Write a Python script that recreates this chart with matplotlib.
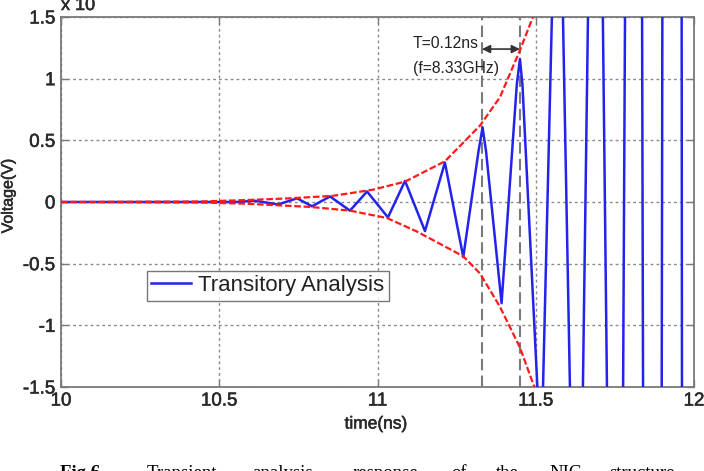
import matplotlib
matplotlib.use("Agg")
import matplotlib.pyplot as plt
import matplotlib.patheffects as pe

# ---------------- data ----------------
# blue transient waveform: extrema / frame crossings (time in ns, voltage)
sig_t = [10.000, 10.553, 10.613, 10.686, 10.746, 10.793, 10.850, 10.913,
         10.967, 11.033, 11.087, 11.150, 11.213, 11.271, 11.319, 11.332,
         11.343, 11.392, 11.440, 11.450, 11.458, 11.510, 11.523, 11.551,
         11.567, 11.586, 11.608, 11.627, 11.649, 11.665, 11.687, 11.712,
         11.725, 11.750, 11.776, 11.782, 11.807, 11.836, 11.839, 11.867,
         11.898, 11.900, 11.930, 11.961, 11.962, 11.994, 12.000]
sig_v = [0.0, 0.0, 0.01, -0.02, 0.03, -0.035, 0.045, -0.07,
         0.085, -0.125, 0.171, -0.236, 0.32, -0.447, 0.41, 0.604,
         0.41, -0.82, 0.95, 1.16, 0.95, -1.75, -1.5, 1.5,
         2.6, 1.5, -1.5, -2.6, -1.5, 1.5, 2.6, 1.5,
         -1.5, -2.6, -1.5, 1.5, 2.6, 1.5, -1.5, -2.6,
         -1.5, 1.5, 2.6, 1.5, -1.5, -2.6, -2.4]

# red exponential envelopes
env_up_t = [10.000, 10.439, 10.588, 10.724, 10.859, 10.986, 11.087, 11.213,
            11.324, 11.387, 11.450, 11.491, 11.529]
env_up_v = [0.0, 0.004, 0.016, 0.03, 0.05, 0.10, 0.165, 0.33,
            0.62, 0.85, 1.23, 1.50, 1.85]
env_lo_t = [10.000, 10.439, 10.588, 10.787, 10.913, 11.030, 11.125, 11.271,
            11.324, 11.387, 11.450, 11.497, 11.529]
env_lo_v = [0.0, -0.004, -0.014, -0.04, -0.07, -0.13, -0.24, -0.44,
            -0.58, -0.85, -1.18, -1.51, -1.8]

period_marks = [11.33, 11.45]
arrow_v = 1.24
label_period = "T=0.12ns"
label_freq = "(f=8.33GHz)"
legend_label = "Transitory Analysis"

xticks = [10, 10.5, 11, 11.5, 12]
xtick_labels = ["10", "10.5", "11", "11.5", "12"]
yticks = [-1.5, -1, -0.5, 0, 0.5, 1, 1.5]
ytick_labels = ["-1.5", "-1", "-0.5", "0", "0.5", "1", "1.5"]

caption_words = ["Transient", "analysis", "response", "of", "the", "NIC", "structure"]
caption_x_px = [147, 252, 353, 451, 496, 549, 609]

# ---------------- figure ----------------
W, H = 704, 471
fig = plt.figure(figsize=(W / 100, H / 100), dpi=100)
plt.rcParams['font.family'] = ['Liberation Sans', 'DejaVu Sans']

thick = [pe.withStroke(linewidth=0.4, foreground='#2a2a2a')]

L, R, T, B = 61, 694, 17, 387
ax = fig.add_axes([L / W, 1 - B / H, (R - L) / W, (B - T) / H])

ax.set_xlim(10, 12)
ax.set_ylim(-1.5, 1.5)

ax.set_xticks(xticks)
ax.set_xticklabels(xtick_labels)
ax.set_yticks(yticks)
ax.set_yticklabels(ytick_labels)
ax.grid(True, color='#8a8a8a', linestyle=(0, (2, 2.2)), linewidth=1.0)
ax.set_axisbelow(True)

# gray vertical dashed period markers
for xm in period_marks:
    ax.axvline(xm, color='#7a7a7a', linestyle=(0, (5.5, 2.5)), linewidth=1.5, zorder=2)

# blue waveform
line, = ax.plot(sig_t, sig_v, color='#2323ee', linewidth=1.8, zorder=3,
                label=legend_label)

# red envelopes
ax.plot(env_up_t, env_up_v, color='#ff1a1a', linestyle=(0, (3, 1.2)),
        linewidth=1.6, zorder=4)
ax.plot(env_lo_t, env_lo_v, color='#ff1a1a', linestyle=(0, (3, 1.2)),
        linewidth=1.6, zorder=4)

# period arrow
ax.annotate("", xy=(period_marks[1], arrow_v), xytext=(period_marks[0], arrow_v),
            arrowprops=dict(arrowstyle='<|-|>', color='#333333', lw=1.2,
                            mutation_scale=12, shrinkA=0, shrinkB=0), zorder=5)
ax.text(11.112, 1.285, label_period, fontsize=11.3, color='#222222',
        ha='left', va='center', zorder=5)
ax.text(11.112, 1.08, label_freq, fontsize=11.3, color='#222222',
        ha='left', va='center', zorder=5)

# axes styling
for sp in ax.spines.values():
    sp.set_color('#7a7a7a')
    sp.set_linewidth(1.3)
ax.tick_params(direction='in', length=5, width=1, color='#7a7a7a',
               top=True, right=True, labelsize=13.5, labelcolor='#2a2a2a', pad=4)
for lab in ax.get_xticklabels() + ax.get_yticklabels():
    lab.set_path_effects(thick)

# legend
leg = ax.legend(handles=[line], loc='upper left',
                bbox_to_anchor=(147 / W, 1 - 270.7 / H),
                bbox_transform=fig.transFigure, fontsize=16,
                frameon=True, fancybox=False, shadow=False, borderaxespad=0,
                borderpad=0.2, handlelength=1.8, handletextpad=0.3)
leg.get_frame().set_edgecolor('#555555')
leg.get_frame().set_linewidth(1.0)
for t in leg.get_texts():
    t.set_color('#222222')

# axis labels
fig.text(376 / W, 1 - 424 / H, "time(ns)", fontsize=12.5, color='#2a2a2a',
         ha='center', va='center', path_effects=thick)
fig.text(8 / W, 1 - 196 / H, "Voltage(V)", fontsize=11.5, color='#2a2a2a',
         ha='center', va='center', rotation=90, path_effects=thick)

# exponent marker, cut at the top as in the reference
fig.text(61 / W, 1 - 10 / H, "x 10", fontsize=13, color='#2a2a2a',
         ha='left', va='baseline', path_effects=thick)

# caption, cut at the bottom as in the reference
base_y = 1 - 477.5 / H
fig.text(60 / W, base_y, "Fig 6.", fontsize=13.5, fontweight='bold',
         family=['Liberation Serif', 'DejaVu Serif'], ha='left', va='baseline')
for w, xp in zip(caption_words, caption_x_px):
    fig.text(xp / W, base_y, w, fontsize=13.5,
             family=['Liberation Serif', 'DejaVu Serif'], ha='left', va='baseline')

fig.savefig("out.png", dpi=100)
